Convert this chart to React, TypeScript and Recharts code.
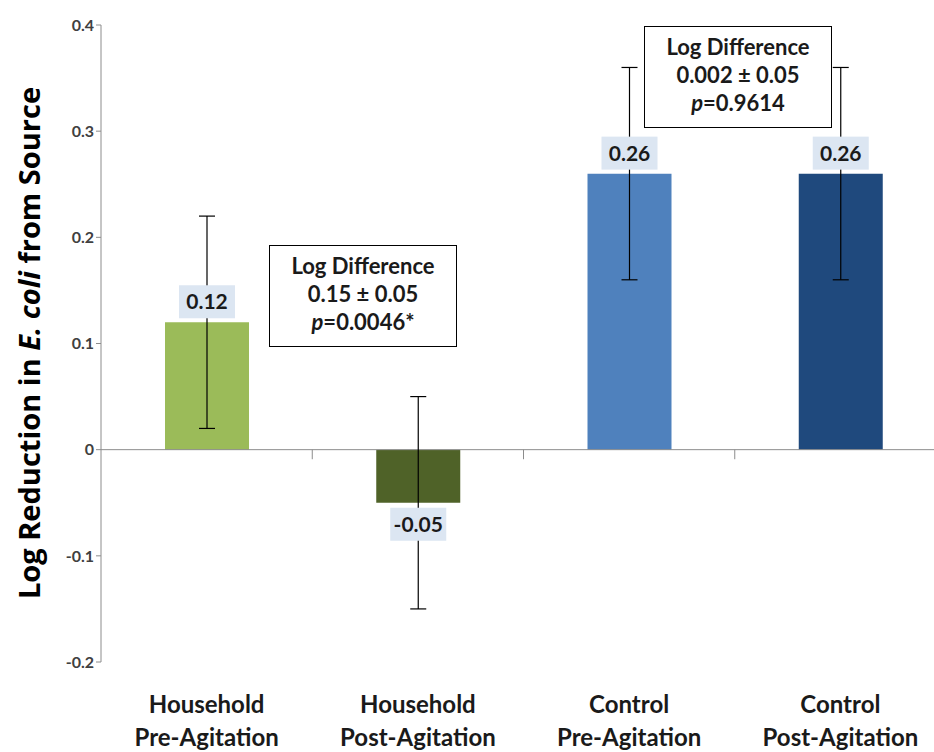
import { Bar, BarChart, Cell, ErrorBar, LabelList, ReferenceLine, XAxis, YAxis } from 'recharts';

const groupLine1 = ['Household', 'Household', 'Control', 'Control'];
const groupLine2 = ['Pre-Agitation', 'Post-Agitation', 'Pre-Agitation', 'Post-Agitation'];
const logReduction = [0.12, -0.05, 0.26, 0.26];
const errorValues = [0.1, 0.1, 0.1, 0.1];
const barColors = ['#9bbb59', '#4f6228', '#4f81bd', '#1f497d'];
const yTicks = [-0.2, -0.1, 0, 0.1, 0.2, 0.3, 0.4];

const data = groupLine1.map((l1, i) => ({
  key: `${l1} ${groupLine2[i]}`,
  value: logReduction[i],
  err: errorValues[i],
  index: i,
}));

const font = 'Lato, "Open Sans", sans-serif';

function CategoryTick({ x, y, payload }: any) {
  const i = data.findIndex(d => d.key === payload.value);
  return (
    <text x={x} y={y} textAnchor="middle" fontFamily={font} fontWeight={700} fontSize={24} fill="#1a1a1a">
      <tspan x={x} dy={43}>{groupLine1[i]}</tspan>
      <tspan x={x} dy={33}>{groupLine2[i]}</tspan>
    </text>
  );
}

function ValueLabel({ x, y, width, height, value }: any) {
  const top = Math.min(y, y + height);
  const bottom = Math.max(y, y + height);
  const w = 56;
  const h = 33;
  const cx = x + width / 2;
  const by = value < 0 ? bottom + 5 : top - 4 - h;
  return (
    <g>
      <rect x={cx - w / 2} y={by} width={w} height={h} fill="#dce6f2" />
      <text x={cx} y={by + h / 2 + 7.5} textAnchor="middle" fontFamily={font} fontWeight={700} fontSize={21} fill="#1a1a1a">
        {value.toFixed(2)}
      </text>
    </g>
  );
}

function AnnotationBox({ left, top, line2, pValue }: { left: number; top: number; line2: string; pValue: string }) {
  return (
    <div style={{ position: 'absolute', left, top, width: 188, height: 102, border: '1px solid #000', background: '#fff', fontFamily: font, fontWeight: 700, fontSize: 22, color: '#1a1a1a', textAlign: 'center', lineHeight: '28px', paddingTop: 6, boxSizing: 'border-box' }}>
      <div>Log Difference</div>
      <div>{line2}</div>
      <div><i>p</i>={pValue}</div>
    </div>
  );
}

export default function App() {
  return (
    <div style={{ position: 'absolute', left: 0, top: 0, width: 934, height: 752, overflow: 'hidden', background: '#fff' }}>
      <BarChart width={946} height={752} data={data} margin={{ top: 25, right: 0, left: 0, bottom: 0 }}>
        <XAxis xAxisId="cat" dataKey="key" axisLine={false} tickLine={false} height={90} tick={<CategoryTick />} interval={0} />
        <YAxis
          domain={[-0.2, 0.4]}
          ticks={yTicks}
          interval={0}
          width={101}
          stroke="#8c8c8c"
          tickSize={5}
          tickFormatter={(v: number) => (v === 0 ? '0' : String(Math.round(v * 10) / 10))}
          tick={{ fontSize: 16, fontWeight: 700, fill: '#404040', fontFamily: font }}
        />
        <ReferenceLine xAxisId="cat" y={0} stroke="#8c8c8c" />
        {data.slice(1).map(d => (
          <ReferenceLine
            key={d.key}
            xAxisId="cat"
            position="start"
            segment={[{ x: d.key, y: 0 }, { x: d.key, y: -0.009 }]}
            stroke="#8c8c8c"
          />
        ))}
        <Bar xAxisId="cat" dataKey="value" barSize={84} isAnimationActive={false}>
          {data.map(d => (
            <Cell key={d.key} fill={barColors[d.index]} />
          ))}
          <ErrorBar dataKey="err" width={8} stroke="#000" strokeWidth={1.2} />
          <LabelList dataKey="value" content={<ValueLabel />} />
        </Bar>
      </BarChart>
      <div style={{ position: 'absolute', left: 28, top: 343, transform: 'translate(-50%, -50%) rotate(-90deg)', whiteSpace: 'nowrap', fontFamily: '"Open Sans", sans-serif', fontWeight: 700, fontSize: 29, color: '#000' }}>
        Log Reduction in <i>E. coli</i> from Source
      </div>
      <AnnotationBox left={269} top={245} line2="0.15 ± 0.05" pValue="0.0046*" />
      <AnnotationBox left={644} top={26} line2="0.002 ± 0.05" pValue="0.9614" />
    </div>
  );
}
